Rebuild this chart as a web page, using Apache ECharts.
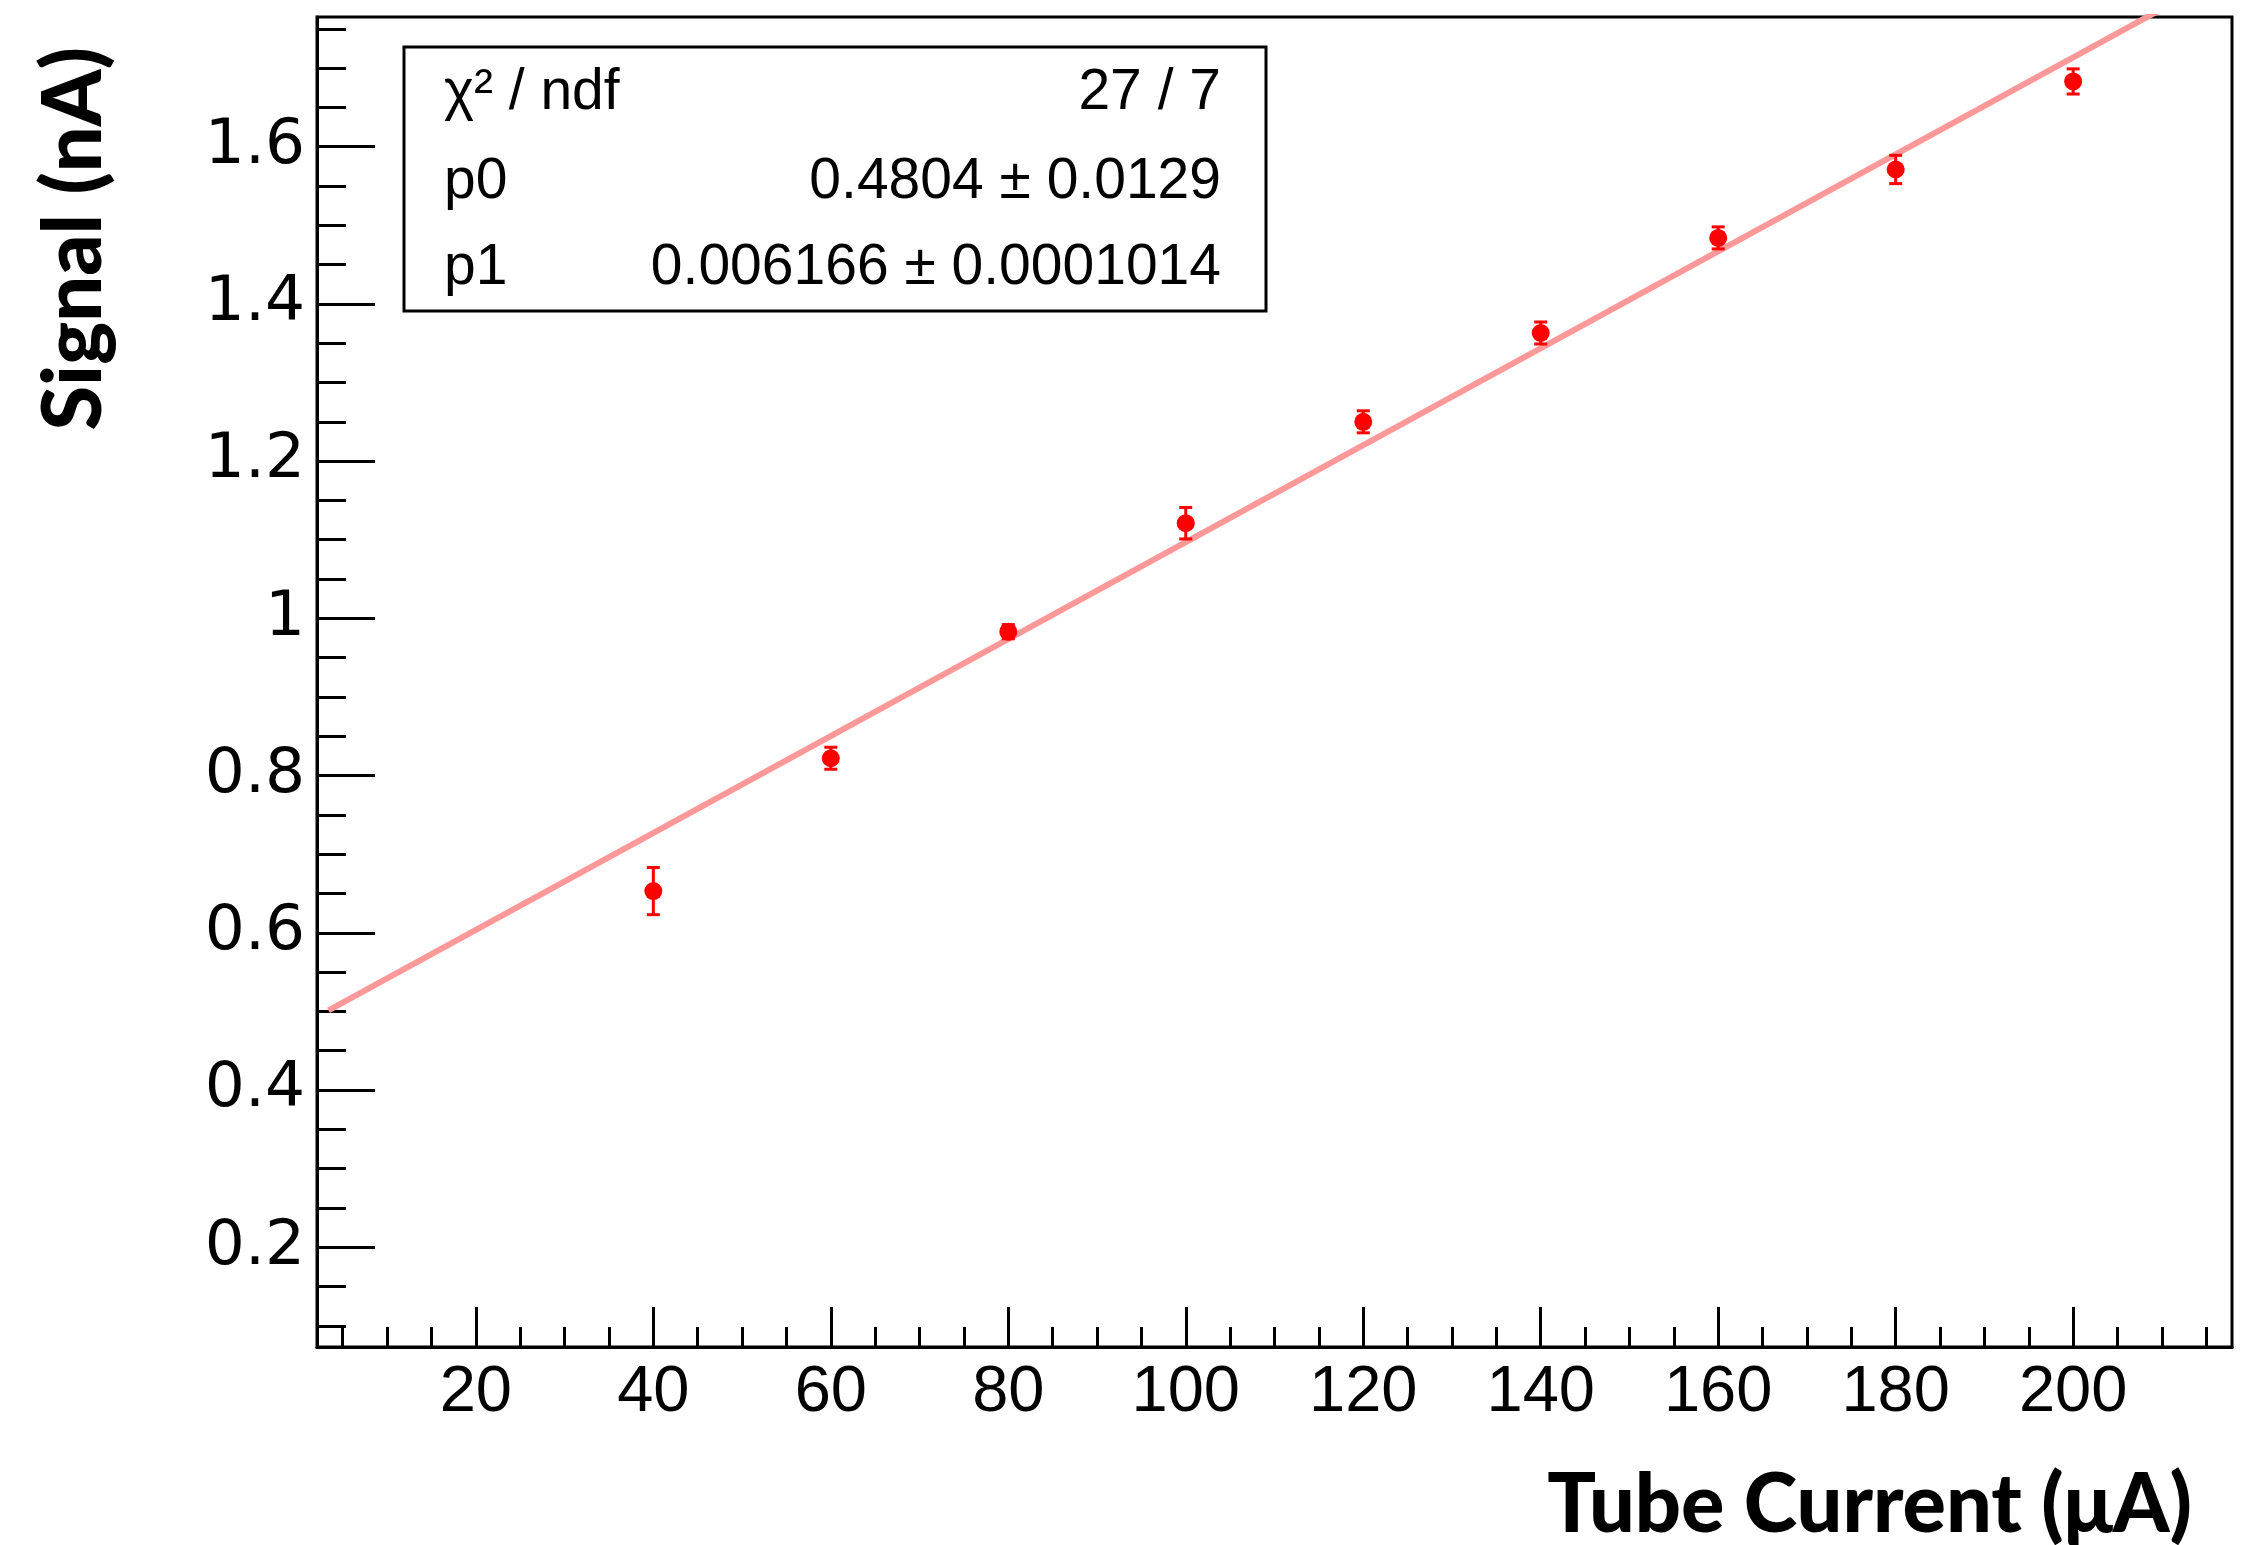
<!DOCTYPE html>
<html>
<head>
<meta charset="utf-8">
<script src="https://cdn.jsdelivr.net/npm/echarts@6/dist/echarts.min.js"></script>
<style>
  html, body { margin: 0; padding: 0; background: #fff; }
  #chart { width: 2249px; height: 1545px; }
</style>
</head>
<body>
<div id="chart"></div>
<script>
// Measured signal vs. X-ray tube current, with a linear fit
const tubeCurrent = [40, 60, 80, 100, 120, 140, 160, 180, 200];
const signal      = [0.653, 0.822, 0.983, 1.121, 1.250, 1.363, 1.484, 1.571, 1.683];
const signalErr   = [0.030, 0.014, 0.009, 0.020, 0.014, 0.014, 0.014, 0.018, 0.016];

// Fit result: signal = p0 + p1 * current
const fitP0 = 0.4804, fitP0Err = 0.0129;
const fitP1 = 0.006166, fitP1Err = 0.0001014;
const fitChi2 = 27, fitNdf = 7;
const fitRange = [3.4, 217.9];

// Axis ranges and ticks
const xRange = [2.1, 217.9];
const yRange = [0.073, 1.765];
const xMajorTicks = [20, 40, 60, 80, 100, 120, 140, 160, 180, 200];
const xMinorTicks = [5, 10, 15, 25, 30, 35, 45, 50, 55, 65, 70, 75, 85, 90, 95, 105, 110, 115,
                     125, 130, 135, 145, 150, 155, 165, 170, 175, 185, 190, 195, 205, 210, 215];
const yMajorTicks = [0.2, 0.4, 0.6, 0.8, 1.0, 1.2, 1.4, 1.6];
const yMinorTicks = [0.1, 0.15, 0.25, 0.3, 0.35, 0.45, 0.5, 0.55, 0.65, 0.7, 0.75, 0.85, 0.9, 0.95,
                     1.05, 1.1, 1.15, 1.25, 1.3, 1.35, 1.45, 1.5, 1.55, 1.65, 1.7, 1.75];

const fitLine = fitRange.map(x => [x, fitP0 + fitP1 * x]);
const points = tubeCurrent.map((x, i) => [x, signal[i]]);
const errBars = tubeCurrent.map((x, i) => [x, signal[i] - signalErr[i], signal[i] + signalErr[i]]);

const BLACK = '#000';
const tickStyle = { color: BLACK, width: 3 };

function xAxisDef(ticks, len, labels) {
  return {
    type: 'value', min: xRange[0], max: xRange[1], position: 'bottom',
    axisLine: { show: labels, onZero: false, lineStyle: { color: BLACK, width: 3 } },
    axisTick: { show: true, inside: true, length: len, customValues: ticks, lineStyle: tickStyle },
    axisLabel: labels ? {
      customValues: ticks, color: BLACK, fontFamily: '"Liberation Sans", Arial, sans-serif',
      fontSize: 65, margin: 14
    } : { show: false },
    splitLine: { show: false }
  };
}
function yAxisDef(ticks, len, labels) {
  return {
    type: 'value', min: yRange[0], max: yRange[1], position: 'left',
    axisLine: { show: labels, onZero: false, lineStyle: { color: BLACK, width: 3 } },
    axisTick: { show: true, inside: true, length: len, customValues: ticks, lineStyle: tickStyle },
    axisLabel: labels ? {
      customValues: ticks, color: BLACK, fontFamily: '"DejaVu Sans", sans-serif',
      fontSize: 63, margin: 12
    } : { show: false },
    splitLine: { show: false }
  };
}

const statsFont = '"Liberation Sans", Arial, sans-serif';
function statsText(x, y, text, align) {
  return {
    type: 'text', x: x, y: y, z: 20,
    style: {
      text: text, fill: BLACK, fontSize: 57, fontFamily: statsFont,
      align: align, verticalAlign: 'middle', textAlign: align, textVerticalAlign: 'middle'
    }
  };
}
function titleText(x, y, text, rotation) {
  return {
    type: 'text', x: x, y: y, z: 20, rotation: rotation,
    style: {
      text: text, fill: BLACK, fontSize: 81, fontWeight: 900,
      fontFamily: 'Lato, "Open Sans", sans-serif',
      align: 'right', verticalAlign: 'middle', textAlign: 'right', textVerticalAlign: 'middle'
    }
  };
}

const chart = echarts.init(document.getElementById('chart'), null, { renderer: 'canvas' });
chart.setOption({
  animation: false,
  backgroundColor: '#fff',
  grid: {
    left: 317, top: 17, right: 17, bottom: 198,
    show: true, borderColor: BLACK, borderWidth: 3, backgroundColor: 'transparent'
  },
  xAxis: [xAxisDef(xMajorTicks, 40, true), xAxisDef(xMinorTicks, 20, false)],
  yAxis: [yAxisDef(yMajorTicks, 58, true), yAxisDef(yMinorTicks, 29, false)],
  series: [
    {
      type: 'line', data: fitLine, showSymbol: false, clip: true, z: 2,
      lineStyle: { color: '#ff9999', width: 6 }
    },
    {
      type: 'custom', data: errBars, z: 3, clip: true,
      renderItem(params, api) {
        const lo = api.coord([api.value(0), api.value(1)]);
        const hi = api.coord([api.value(0), api.value(2)]);
        const hw = 6.5;
        const style = { stroke: '#ff0000', lineWidth: 3, fill: null };
        return {
          type: 'group',
          children: [
            { type: 'line', shape: { x1: lo[0], y1: lo[1], x2: hi[0], y2: hi[1] }, style },
            { type: 'line', shape: { x1: lo[0] - hw, y1: lo[1], x2: lo[0] + hw, y2: lo[1] }, style },
            { type: 'line', shape: { x1: hi[0] - hw, y1: hi[1], x2: hi[0] + hw, y2: hi[1] }, style }
          ]
        };
      }
    },
    {
      type: 'scatter', data: points, symbol: 'circle', symbolSize: 18, z: 4,
      itemStyle: { color: '#ff0000', opacity: 1 }
    }
  ],
  graphic: [
    {
      type: 'rect', z: 15,
      shape: { x: 404, y: 47, width: 862, height: 264 },
      style: { fill: '#fff', stroke: BLACK, lineWidth: 3 }
    },
    statsText(444, 93, 'χ² / ndf', 'left'),
    statsText(1221, 93, fitChi2 + ' / ' + fitNdf, 'right'),
    statsText(444, 182, 'p0', 'left'),
    statsText(1221, 182, fitP0 + ' ± ' + fitP0Err, 'right'),
    statsText(444, 268, 'p1', 'left'),
    statsText(1221, 268, fitP1 + ' ± ' + fitP1Err, 'right'),
    titleText(2192, 1506, 'Tube Current (μA)', 0),
    titleText(75, 47, 'Signal (nA)', Math.PI / 2)
  ]
});
</script>
</body>
</html>
